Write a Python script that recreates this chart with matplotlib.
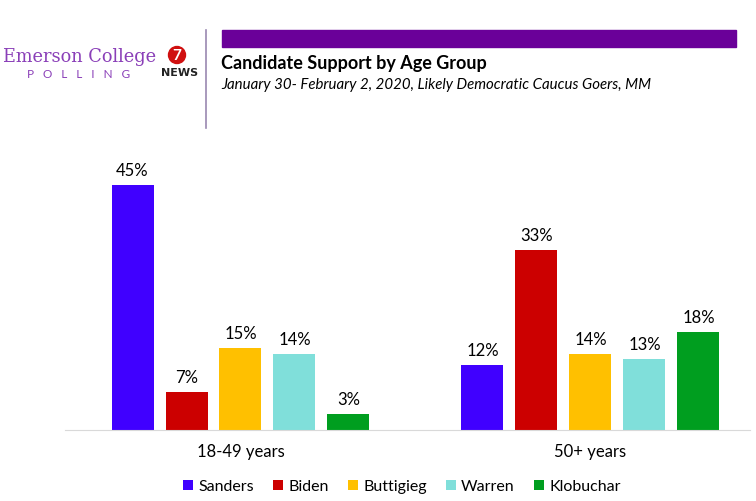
import matplotlib.pyplot as plt
from matplotlib.patches import Rectangle, Ellipse
import numpy as np

# Data
groups = ['18-49 years', '50+ years']
candidates = ['Sanders', 'Biden', 'Buttigieg', 'Warren', 'Klobuchar']
sanders = [45, 12]
biden = [7, 33]
buttigieg = [15, 14]
warren = [14, 13]
klobuchar = [3, 18]
colors = ['#4000ff', '#cc0000', '#ffc000', '#80dfda', '#009e1f']

plt.rcParams['font.family'] = ['Lato', 'DejaVu Sans']

fig = plt.figure(figsize=(7.56, 5.01), dpi=100)
W, H = 756, 501

# axes placed in pixel terms
ax_left, ax_right, ax_bottom, ax_top = 65, 750, 430, 140
ax = fig.add_axes([ax_left / W, (H - ax_bottom) / H,
                   (ax_right - ax_left) / W, (ax_bottom - ax_top) / H])

series = [sanders, biden, buttigieg, warren, klobuchar]
pitch = 54 / 350
width = 42 / 350
x = np.arange(len(groups))
for i, (name, vals) in enumerate(zip(candidates, series)):
    pos = x + (i - 2) * pitch
    bars = ax.bar(pos, vals, width, color=colors[i], label=name)
    for b, v in zip(bars, vals):
        ax.text(b.get_x() + b.get_width() / 2, v + 1.1, f'{v}%',
                ha='center', va='bottom', fontsize=12)

ax.set_xlim((ax_left - 240.5) / 350, (ax_right - 240.5) / 350)
ax.set_ylim(0, (ax_bottom - ax_top) / 5.44)
ax.set_xticks(x)
ax.set_xticklabels(groups, fontsize=12)
ax.tick_params(axis='x', length=0, pad=10)
ax.set_yticks([])
for s in ['top', 'right', 'left']:
    ax.spines[s].set_visible(False)
ax.spines['bottom'].set_color('#d9d9d9')

leg = fig.legend(loc='center', bbox_to_anchor=(402 / W, (H - 487) / H),
                 ncol=5, frameon=False, fontsize=11.5, handlelength=0.6,
                 handleheight=0.6, handletextpad=0.35, columnspacing=1.2)

# header
fig.patches.append(Rectangle((222 / W, (H - 47) / H), (736 - 222) / W, 17 / H,
                             transform=fig.transFigure, color='#6a0099'))
fig.text(221 / W, (H - 64) / H, 'Candidate Support by Age Group',
         fontsize=13, fontweight='bold', va='center', ha='left')
fig.text(221 / W, (H - 85) / H,
         'January 30- February 2, 2020, Likely Democratic Caucus Goers, MM',
         fontsize=10.8, style='italic', va='center', ha='left')
fig.add_artist(plt.Line2D([206 / W, 206 / W], [(H - 128) / H, (H - 30) / H],
                          color='#9a88b0', lw=1.2))

# logo
fig.text(80 / W, (H - 57) / H, 'Emerson College', family='DejaVu Serif',
         fontsize=12.8, color='#8a3fb8', ha='center', va='center')
fig.text(79 / W, (H - 75) / H, 'P   O   L   L   I   N   G', fontsize=8.5,
         color='#8a3fb8', ha='center', va='center')
fig.patches.append(Ellipse((177 / W, (H - 55) / H), 17 / W, 17 / H,
                           transform=fig.transFigure, color='#d01010'))
fig.text(177 / W, (H - 56) / H, '7', fontsize=11, fontweight='bold',
         color='white', ha='center', va='center')
fig.text(180 / W, (H - 73) / H, 'NEWS', fontsize=8, fontweight='bold',
         family='DejaVu Sans', color='#222222', ha='center', va='center')

fig.savefig('out.png', dpi=100)
